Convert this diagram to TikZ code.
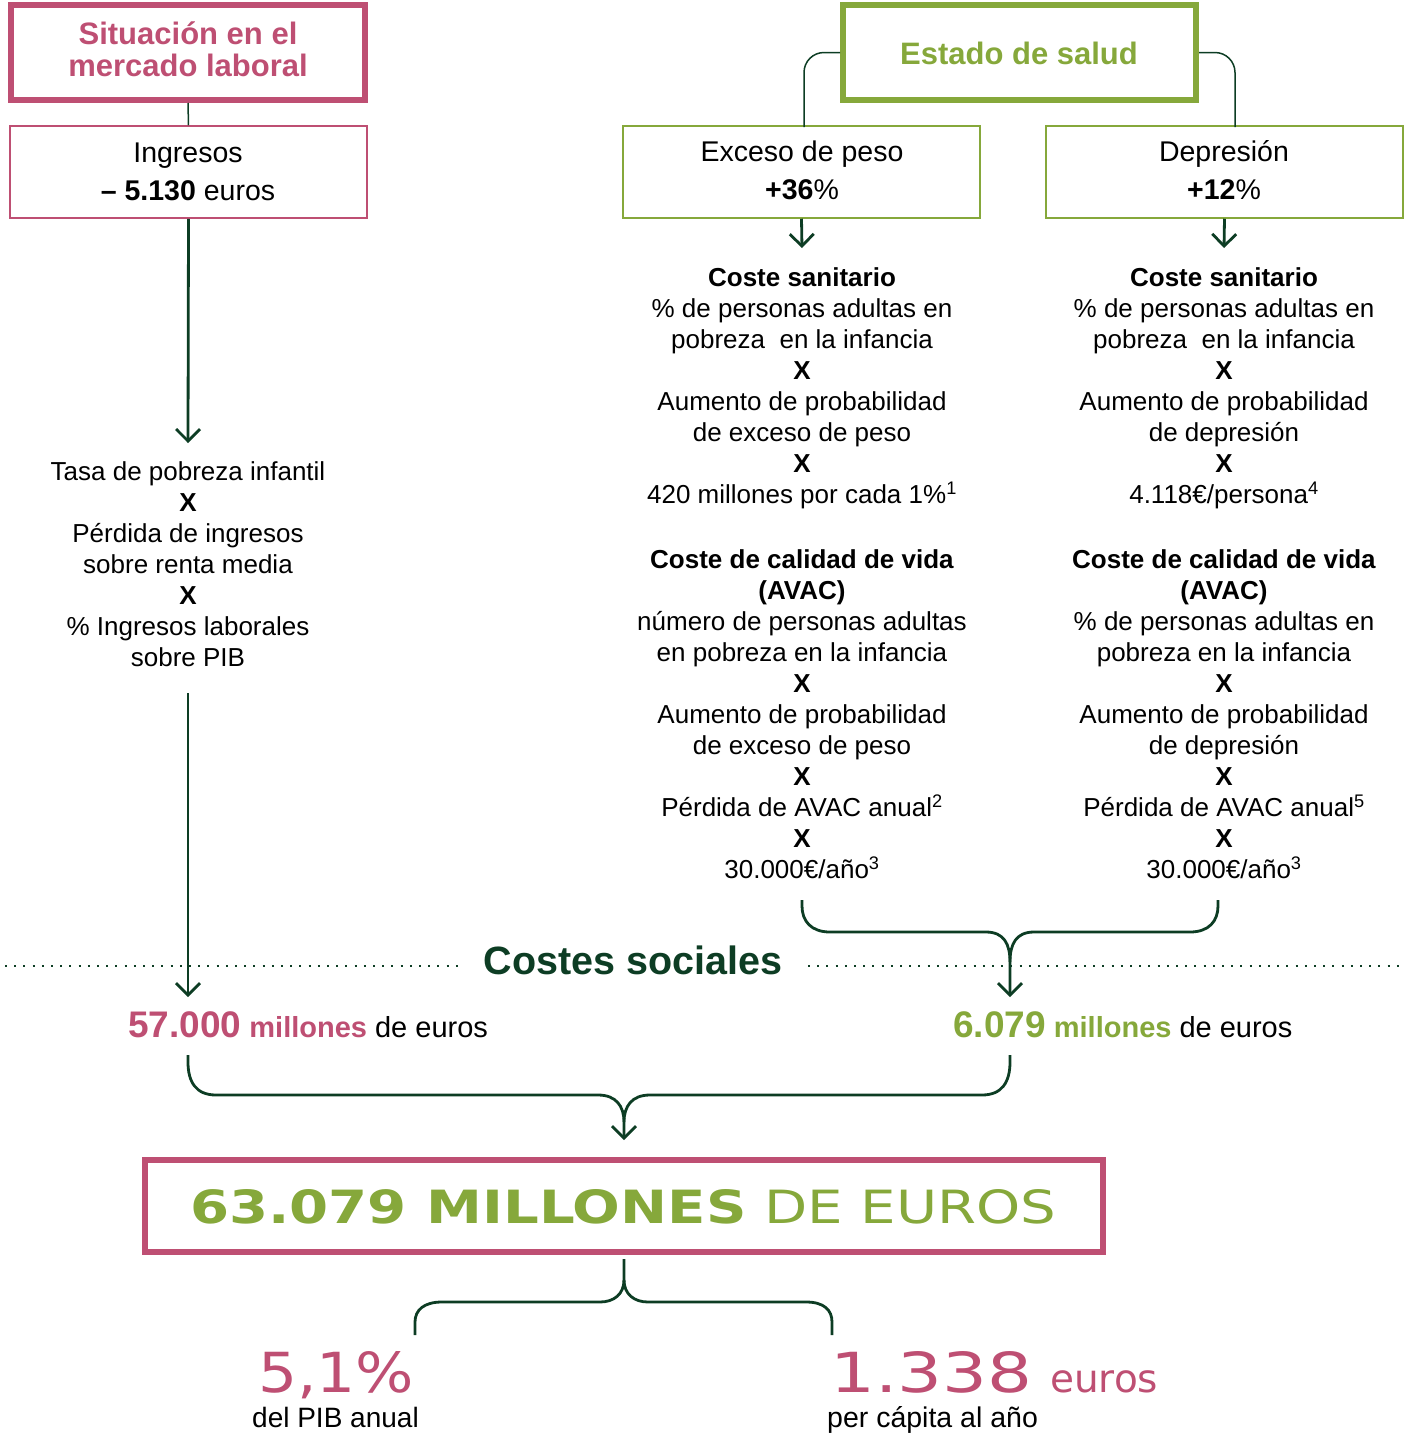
\documentclass[tikz,border=0pt]{standalone}
\usepackage{fontspec}
\usepackage{graphicx}
\setmainfont{Liberation Sans}
\newfontfamily\widefont{DejaVu Sans}
\usetikzlibrary{arrows.meta}
\definecolor{mag}{HTML}{BE4F73}
\definecolor{grn}{HTML}{86A83B}
\definecolor{dkg}{HTML}{0D3D24}
\begin{document}
\begin{tikzpicture}[x=1pt,y=-1pt,
  thickbox/.style={draw, line width=6pt, inner sep=0pt},
  thinbox/.style={draw, line width=1.5pt, inner sep=0pt},
  blk/.style={align=center, inner sep=0pt, anchor=north, execute at begin node={\rule{0pt}{1em}}},
  body/.style={font=\fontsize{26}{31}\selectfont},
  boxtxt/.style={font=\fontsize{28.5}{38}\selectfont},
  head/.style={font=\bfseries\fontsize{31}{32}\selectfont},
  conn/.style={draw=dkg, line width=2.8pt},
  thinconn/.style={draw=dkg, line width=1.5pt},
  arr/.style={conn, -{Straight Barb[length=12pt,width=24pt]}},
  dots/.style={draw=dkg, line width=2pt, dash pattern=on 2pt off 7.2pt},
  lbl/.style={inner sep=0pt, anchor=base west},
]
\useasboundingbox (0,0) rectangle (1408,1433);

% ---------- top boxes ----------
\node[thickbox, draw=mag, minimum width=354pt, minimum height=95pt] (sit) at (188,52.5) {};
\node[blk, head, text=mag] (sitT) at (188,22) {Situación en el\\mercado laboral};
\node[thinbox, draw=mag, minimum width=357pt, minimum height=92pt] (ing) at (188.5,172) {};
\node[blk, boxtxt] (ingT) at (188,142.5) {Ingresos\\\textbf{– 5.130} euros};

\node[thickbox, draw=grn, minimum width=353pt, minimum height=95pt] (est) at (1019.5,52.5) {};
\node[blk, head, text=grn] (estT) at (1019,33) {Estado de salud};
\node[thinbox, draw=grn, minimum width=357pt, minimum height=92pt] (exc) at (801.5,172) {};
\node[blk, boxtxt] (excT) at (802,140.5) {Exceso de peso\\\textbf{+36}\%};
\node[thinbox, draw=grn, minimum width=357pt, minimum height=92pt] (dep) at (1224.5,172) {};
\node[blk, boxtxt] (depT) at (1224,140.5) {Depresión\\\textbf{+12}\%};

% ---------- formula texts ----------
\node[blk, body] (f1) at (188,461) {Tasa de pobreza infantil\\\textbf{X}\\Pérdida de ingresos\\sobre renta media\\\textbf{X}\\\% Ingresos laborales\\sobre PIB};

\node[blk, body] (f2) at (802,267) {\textbf{Coste sanitario}\\\% de personas adultas en\\pobreza \ en la infancia\\\textbf{X}\\Aumento de probabilidad\\de exceso de peso\\\textbf{X}\\420 millones por cada 1\%\textsuperscript{1}\\[34pt]\textbf{Coste de calidad de vida}\\\textbf{(AVAC)}\\número de personas adultas\\en pobreza en la infancia\\\textbf{X}\\Aumento de probabilidad\\de exceso de peso\\\textbf{X}\\Pérdida de AVAC anual\textsuperscript{2}\\\textbf{X}\\30.000€/año\textsuperscript{3}};

\node[blk, body] (f3) at (1224,267) {\textbf{Coste sanitario}\\\% de personas adultas en\\pobreza \ en la infancia\\\textbf{X}\\Aumento de probabilidad\\de depresión\\\textbf{X}\\4.118€/persona\textsuperscript{4}\\[34pt]\textbf{Coste de calidad de vida}\\\textbf{(AVAC)}\\\% de personas adultas en\\pobreza en la infancia\\\textbf{X}\\Aumento de probabilidad\\de depresión\\\textbf{X}\\Pérdida de AVAC anual\textsuperscript{5}\\\textbf{X}\\30.000€/año\textsuperscript{3}};

% ---------- costes sociales ----------
\coordinate (dA) at (5,966);
\coordinate (dB) at (460,966);
\coordinate (dC) at (808,966);
\coordinate (dD) at (1403,966);
\draw[dots] (dA) -- (dB);
\draw[dots] (dC) -- (dD);
\node[anchor=base, inner sep=0pt, text=dkg, font=\bfseries\fontsize{39.5}{40}\selectfont] (cs) at (633,974) {Costes sociales};

\node[lbl, font=\fontsize{29}{30}\selectfont] (m1) at (128,1037) {\textcolor{mag}{\bfseries\fontsize{37}{37}\selectfont 57.000} \textcolor{mag}{\bfseries\fontsize{29}{30}\selectfont millones} de euros};
\node[lbl, font=\fontsize{29}{30}\selectfont] (m2) at (953,1037) {\textcolor{grn}{\bfseries\fontsize{37}{37}\selectfont 6.079} \textcolor{grn}{\bfseries\fontsize{29}{30}\selectfont millones} de euros};

% ---------- total ----------
\node[thickbox, draw=mag, minimum width=958pt, minimum height=92pt] (tot) at (624,1206) {};
\node[lbl, text=grn] (totT) at (190,1223) {\resizebox{866pt}{34pt}{\widefont\textbf{63.079 MILLONES} DE EUROS}};

\node[lbl, text=mag] (pct) at (258,1392) {\resizebox{156pt}{41pt}{\widefont 5,1\%}};
\node[lbl, font=\fontsize{28}{30}\selectfont] (pctL) at (252,1427) {del PIB anual};
\node[lbl, text=mag] (pc) at (830,1392) {\resizebox{202pt}{41pt}{\widefont 1.338}};
\node[lbl, text=mag, font=\widefont\fontsize{39}{40}\selectfont] (pcE) at (1050,1392) {euros};
\node[lbl, font=\fontsize{28.5}{30}\selectfont] (pcL) at (827,1427) {per cápita al año};

% ---------- connectors ----------
\draw[thinconn] (sit.south) -- (ing.north);
\coordinate (a1) at (188,443);
\coordinate (b1) at (188,693);
\coordinate (a2) at (188,997);
\draw[arr] (ing.south) -- (a1);
\draw[arr] (b1) -- (a2);

\coordinate (eL) at (804,127);
\coordinate (eR) at (1235,127);
\draw[thinconn, rounded corners=20pt] (est.west) -| (eL);
\draw[thinconn, rounded corners=20pt] (est.east) -| (eR);

\coordinate (e1) at (802,248);
\coordinate (d1) at (1224,248);
\draw[arr] (exc.south) -- (e1);
\draw[arr] (dep.south) -- (d1);

% brace into 6.079
\coordinate (bl) at (802,900);
\coordinate (br) at (1218,900);
\coordinate (bm) at (1010,997);
\draw[arr] (bl) -- (802,906) .. controls (802,921) and (811,932) .. (830,932) -- (986,932) .. controls (1004,932) and (1010,944) .. (1010,962) -- (bm);
\draw[conn] (br) -- (1218,906) .. controls (1218,921) and (1209,932) .. (1190,932) -- (1034,932) .. controls (1016,932) and (1010,944) .. (1010,962);

% brace into total
\coordinate (cl) at (188,1055);
\coordinate (cr) at (1010,1055);
\coordinate (cm) at (624,1140);
\draw[arr] (cl) -- (188,1062) .. controls (188,1082) and (196,1095) .. (216,1095) -- (598,1095) .. controls (616,1095) and (624,1106) .. (624,1122) -- (cm);
\draw[conn] (cr) -- (1010,1062) .. controls (1010,1082) and (1002,1095) .. (982,1095) -- (650,1095) .. controls (632,1095) and (624,1106) .. (624,1122);

% brace below total
\coordinate (ds) at (624,1259);
\coordinate (dl) at (415,1335);
\coordinate (dr) at (832,1335);
\draw[conn] (ds) -- (624,1280) .. controls (624,1294) and (614,1302) .. (600,1302) -- (442,1302) .. controls (424,1302) and (415,1310) .. (415,1322) -- (dl);
\draw[conn] (624,1280) .. controls (624,1294) and (634,1302) .. (648,1302) -- (806,1302) .. controls (824,1302) and (832,1310) .. (832,1322) -- (dr);
\end{tikzpicture}
\end{document}
